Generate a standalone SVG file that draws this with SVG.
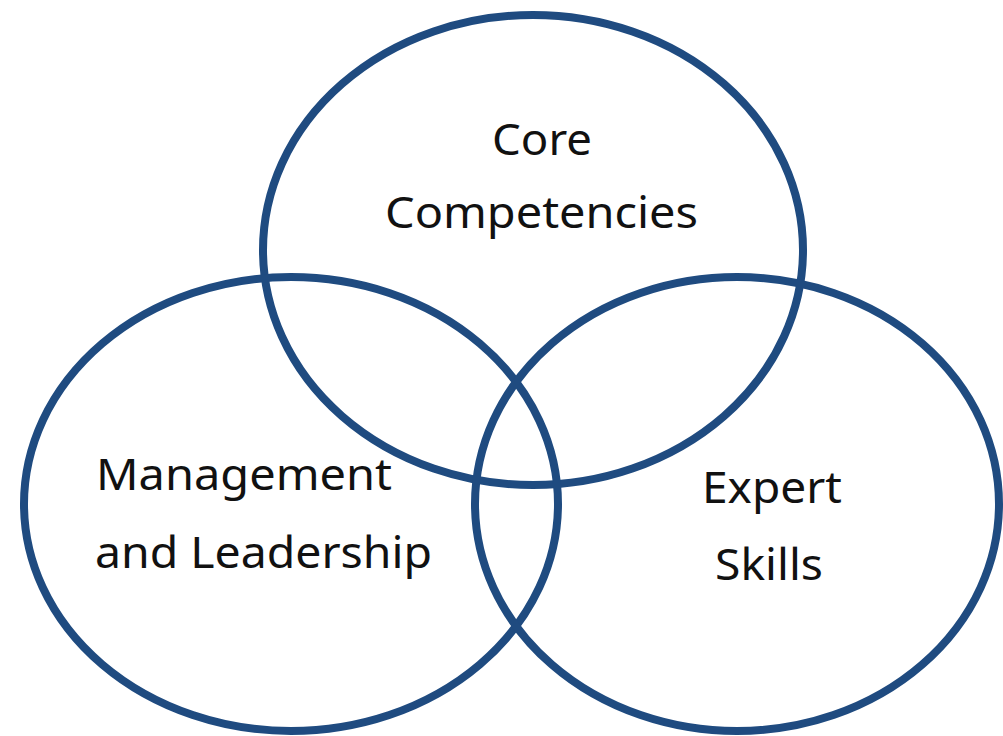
<svg xmlns="http://www.w3.org/2000/svg" width="1003" height="736" viewBox="0 0 1003 736">
<style>
.ring{fill:none;stroke:#1F4B80;stroke-width:8}
.lbl{font-family:"Noto Sans","Open Sans","DejaVu Sans",sans-serif;font-size:43px;fill:#111}
</style>
<rect width="1003" height="736" fill="#fff"/>
<g id="core">
<ellipse class="ring" cx="533" cy="250" rx="270" ry="235"/>
<text class="lbl" x="492" y="155" textLength="100" lengthAdjust="spacingAndGlyphs">Core</text>
<text class="lbl" x="385" y="228" textLength="313" lengthAdjust="spacingAndGlyphs">Competencies</text>
</g>
<g id="management">
<ellipse class="ring" cx="291" cy="504" rx="267" ry="227"/>
<text class="lbl" x="96" y="490" textLength="296" lengthAdjust="spacingAndGlyphs">Management</text>
<text class="lbl" x="95" y="568" textLength="337" lengthAdjust="spacingAndGlyphs">and Leadership</text>
</g>
<g id="expert">
<ellipse class="ring" cx="737" cy="504" rx="262" ry="227"/>
<text class="lbl" x="702" y="503" textLength="140" lengthAdjust="spacingAndGlyphs">Expert</text>
<text class="lbl" x="715" y="580" textLength="108" lengthAdjust="spacingAndGlyphs">Skills</text>
</g>
<g id="connectors"></g>
</svg>
